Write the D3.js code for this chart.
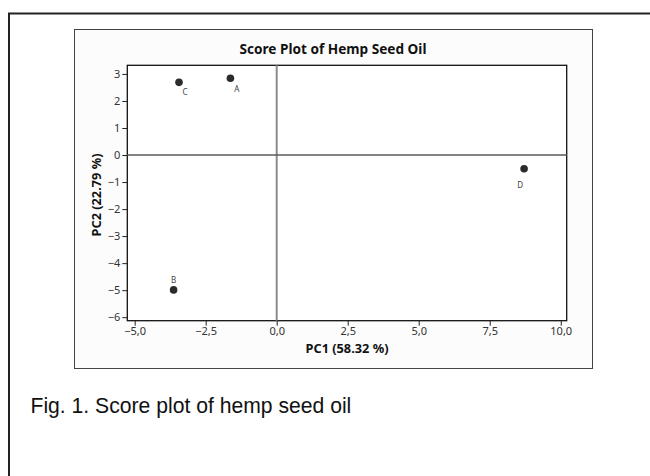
<!DOCTYPE html>
<html>
<head>
  <meta charset="utf-8"/>
  <title>Score Plot of Hemp Seed Oil</title>
  <style type="text/css">
    body { margin:0; padding:0; background:white; }
    svg { display:block; }
  </style>
  <script src="https://cdn.jsdelivr.net/npm/d3@7"></script>
</head>
<body>
<script type="text/javascript">

  // DATA
  var samples = ["A", "B", "C", "D"];
  var pc1 = [-1.63, -3.63, -3.44, 8.71];
  var pc2 = [2.84, -4.99, 2.69, -0.51];
  var xTicks = [-5, -2.5, 0, 2.5, 5, 7.5, 10];
  var yTicks = [3, 2, 1, 0, -1, -2, -3, -4, -5, -6];

  var w = 650, h = 476;
  var uiFont = "'Noto Sans', 'Open Sans', sans-serif";
  var fmtComma = function(d) { return d3.format(".1f")(d).replace(".", ","); };

  // scale a text's font size so it spans the width measured on the original
  function fitWidth(sel, width) {
    var fs = parseFloat(sel.style("font-size"));
    var len = sel.node().getComputedTextLength();
    sel.style("font-size", (fs * width / len).toFixed(2) + "px");
    return sel;
  }

  var svg = d3.select("body").append("svg")
              .attr("width", w)
              .attr("height", h);

  // outer page frame (open at the right and bottom)
  svg.append("rect")
     .attr("x", 9).attr("y", 13.5)
     .attr("width", 660).attr("height", 480)
     .style("fill", "white")
     .style("stroke", "#222")
     .style("stroke-width", 2);

  // chart box
  svg.append("rect")
     .attr("x", 74.5).attr("y", 29.5)
     .attr("width", 518).attr("height", 339)
     .style("fill", "#fcfcfc")
     .style("stroke", "#444")
     .style("stroke-width", 1);

  // plot area
  var x = d3.scaleLinear().domain([-5.26, 10.21]).range([127.3, 566.7]);
  var y = d3.scaleLinear().domain([3.32, -6.13]).range([65.3, 320.7]);

  svg.append("rect")
     .attr("x", x.range()[0]).attr("y", y.range()[0])
     .attr("width", x.range()[1] - x.range()[0])
     .attr("height", y.range()[1] - y.range()[0])
     .style("fill", "white")
     .style("stroke", "#111")
     .style("stroke-width", 1.3);

  // reference lines
  svg.append("line")
     .attr("x1", x(0)).attr("x2", x(0))
     .attr("y1", y.range()[0]).attr("y2", y.range()[1])
     .style("stroke", "#8c8c8c").style("stroke-width", 2);
  svg.append("line")
     .attr("x1", x.range()[0]).attr("x2", x.range()[1])
     .attr("y1", y(0)).attr("y2", y(0))
     .style("stroke", "#5a5a5a").style("stroke-width", 1.5);

  // axes
  var xAxis = svg.append("g")
     .attr("transform", "translate(0," + y.range()[1] + ")")
     .call(d3.axisBottom(x).tickValues(xTicks).tickFormat(fmtComma).tickSize(5).tickPadding(2));
  var yAxis = svg.append("g")
     .attr("transform", "translate(" + x.range()[0] + ",0)")
     .call(d3.axisLeft(y).tickValues(yTicks).tickFormat(d3.format("d")).tickSize(5).tickPadding(2));

  [xAxis, yAxis].forEach(function(a) {
    a.select(".domain").remove();
    a.selectAll(".tick line").style("stroke", "#222");
    a.selectAll(".tick text")
     .style("font-family", uiFont)
     .style("font-size", "11px")
     .style("fill", "#333");
  });

  // points
  svg.append("g").selectAll("circle")
     .data(samples)
     .enter().append("circle")
     .attr("cx", function(d, i) { return x(pc1[i]); })
     .attr("cy", function(d, i) { return y(pc2[i]); })
     .attr("r", 3.8)
     .style("fill", "#2b2b2b");

  // point labels
  var labelOffset = { A: [6.5, 13.5], B: [0, -7], C: [6, 12.5], D: [-4, 19] };
  svg.append("g").selectAll("text")
     .data(samples)
     .enter().append("text")
     .attr("x", function(d, i) { return x(pc1[i]) + labelOffset[d][0]; })
     .attr("y", function(d, i) { return y(pc2[i]) + labelOffset[d][1]; })
     .attr("text-anchor", "middle")
     .style("font-family", uiFont)
     .style("font-size", "8px")
     .style("fill", "#444")
     .text(function(d) { return d; });

  // titles
  var title = svg.append("text")
     .attr("x", 333).attr("y", 54)
     .attr("text-anchor", "middle")
     .style("font-family", uiFont)
     .style("font-weight", "bold")
     .style("font-size", "12px")
     .style("fill", "#111")
     .text("Score Plot of Hemp Seed Oil");
  fitWidth(title, 187);

  var xTitle = svg.append("text")
     .attr("x", 347).attr("y", 353)
     .attr("text-anchor", "middle")
     .style("font-family", uiFont)
     .style("font-weight", "bold")
     .style("font-size", "11px")
     .style("fill", "#111")
     .text("PC1 (58.32 %)");
  fitWidth(xTitle, 83);

  var yTitle = svg.append("text")
     .attr("transform", "translate(101,195) rotate(-90)")
     .attr("text-anchor", "middle")
     .style("font-family", uiFont)
     .style("font-weight", "bold")
     .style("font-size", "11px")
     .style("fill", "#111")
     .text("PC2 (22.79 %)");
  fitWidth(yTitle, 83);

  // caption
  var caption = svg.append("text")
     .attr("x", 30.5).attr("y", 413)
     .style("font-family", "'Liberation Sans', Arial, sans-serif")
     .style("font-size", "21px")
     .style("fill", "#111")
     .text("Fig. 1. Score plot of hemp seed oil");
  fitWidth(caption, 321);

</script>
</body>
</html>
